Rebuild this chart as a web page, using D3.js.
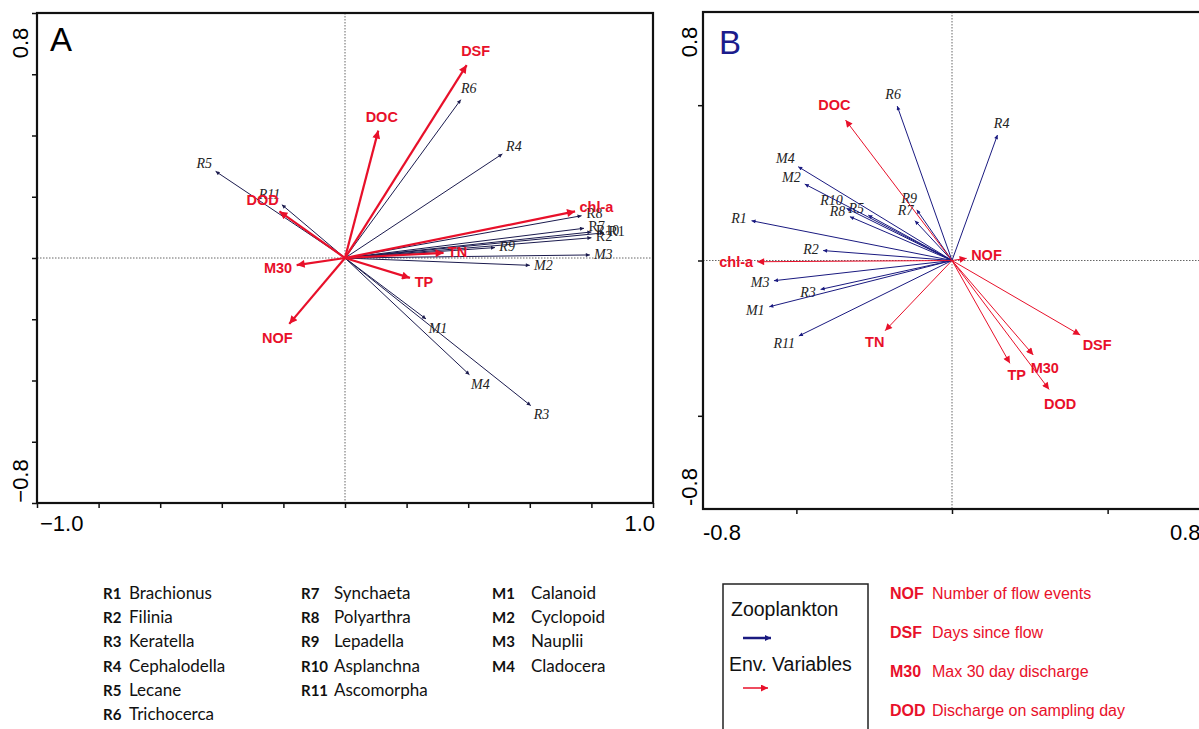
<!DOCTYPE html>
<html>
<head>
<meta charset="utf-8">
<script src="https://cdn.jsdelivr.net/npm/d3@7"></script>
<style>
body { margin: 0; background: #fff; }
svg { display: block; }
</style>
</head>
<body>
<script>
// Panel A (left) vectors
var zooNamesA = ['R1', 'R2', 'R3', 'R4', 'R5', 'R6', 'R7', 'R8', 'R9', 'R10', 'R11', 'M1', 'M2', 'M3', 'M4'];
var zooXA = [0.841, 0.80, 0.603, 0.511, -0.42, 0.376, 0.776, 0.768, 0.487, 0.80, -0.205, 0.263, 0.60, 0.795, 0.404];
var zooYA = [0.082, 0.066, -0.482, 0.34, 0.283, 0.517, 0.097, 0.138, 0.034, 0.085, 0.174, -0.199, -0.024, 0.01, -0.381];

var envNamesA = ['NOF', 'DSF', 'M30', 'DOD', 'DOC', 'chl-a', 'TN', 'TP'];
var envXA = [-0.181, 0.395, -0.157, -0.213, 0.108, 0.747, 0.32, 0.211];
var envYA = [-0.215, 0.63, -0.023, 0.152, 0.416, 0.152, 0.017, -0.065];

// Panel B (right) vectors
var zooNamesB = ['R1', 'R2', 'R3', 'R4', 'R5', 'R6', 'R7', 'R8', 'R9', 'R10', 'R11', 'M1', 'M2', 'M3', 'M4'];
var zooXB = [-0.644, -0.414, -0.422, 0.146, -0.269, -0.176, -0.119, -0.328, -0.113, -0.339, -0.492, -0.587, -0.473, -0.572, -0.494];
var zooYB = [0.128, 0.032, -0.093, 0.404, 0.146, 0.497, 0.128, 0.141, 0.163, 0.168, -0.243, -0.149, 0.246, -0.065, 0.302];

var envNamesB = ['NOF', 'DSF', 'M30', 'DOD', 'DOC', 'chl-a', 'TN', 'TP'];
var envXB = [0.047, 0.412, 0.261, 0.312, -0.342, -0.626, -0.215, 0.186];
var envYB = [0.007, -0.24, -0.304, -0.415, 0.452, -0.004, -0.226, -0.331];

// tick labels
var tickLabelsA = { xmin: '\u22121.0', xmax: '1.0', ymin: '\u22120.8', ymax: '0.8' };
var tickLabelsB = { xmin: '-0.8', xmax: '0.8', ymin: '-0.8', ymax: '0.8' };

// legends
var legendCodes1 = ['R1', 'R2', 'R3', 'R4', 'R5', 'R6'];
var legendTaxa1 = ['Brachionus', 'Filinia', 'Keratella', 'Cephalodella', 'Lecane', 'Trichocerca'];
var legendCodes2 = ['R7', 'R8', 'R9', 'R10', 'R11'];
var legendTaxa2 = ['Synchaeta', 'Polyarthra', 'Lepadella', 'Asplanchna', 'Ascomorpha'];
var legendCodes3 = ['M1', 'M2', 'M3', 'M4'];
var legendTaxa3 = ['Calanoid', 'Cyclopoid', 'Nauplii', 'Cladocera'];
var envCodes = ['NOF', 'DSF', 'M30', 'DOD'];
var envDescr = ['Number of flow events', 'Days since flow', 'Max 30 day discharge', 'Discharge on sampling day'];

var RED = '#e8102a';
var NAVY = '#1a1a80';
var DARK = '#1b1b4e';

var svg = d3.select('body').append('svg')
	.attr('width', 1199)
	.attr('height', 729);

var defs = svg.append('defs');
function marker(id, color, w, h) {
	defs.append('marker')
		.attr('id', id)
		.attr('viewBox', '0 0 10 10')
		.attr('refX', 10).attr('refY', 5)
		.attr('markerUnits', 'userSpaceOnUse')
		.attr('markerWidth', w).attr('markerHeight', h)
		.attr('orient', 'auto')
		.append('path')
		.attr('d', 'M0,0L10,5L0,10Z')
		.attr('fill', color);
}
marker('zooA', DARK, 6, 4);
marker('envA', RED, 11, 8);
marker('zooB', NAVY, 6, 4);
marker('envB', RED, 9, 7);
marker('legZoo', NAVY, 8, 6);

function zip(names, xs, ys) {
	return names.map(function (n, i) { return { name: n, x: xs[i], y: ys[i] }; });
}

var measure = svg.append('text').attr('visibility', 'hidden');
function textWidth(str, font) {
	measure.style('font', font).text(str);
	return measure.node().getComputedTextLength();
}

function drawPanel(opts) {
	var g = svg.append('g');
	var x = d3.scaleLinear().domain(opts.xDomain).range(opts.xRange);
	var y = d3.scaleLinear().domain(opts.yDomain).range(opts.yRange);

	// dotted zero lines
	g.append('line')
		.attr('x1', x(0)).attr('x2', x(0))
		.attr('y1', y.range()[1]).attr('y2', y.range()[0])
		.attr('stroke', '#666').attr('stroke-width', 1).attr('stroke-dasharray', '1.5,1.5');
	g.append('line')
		.attr('x1', x.range()[0]).attr('x2', x.range()[1])
		.attr('y1', y(0)).attr('y2', y(0))
		.attr('stroke', '#666').attr('stroke-width', 1).attr('stroke-dasharray', '1.5,1.5');

	// frame
	g.append('rect')
		.attr('x', x.range()[0]).attr('y', y.range()[1])
		.attr('width', x.range()[1] - x.range()[0])
		.attr('height', y.range()[0] - y.range()[1])
		.attr('fill', 'none').attr('stroke', '#111').attr('stroke-width', 2.2);

	// ticks
	g.append('g')
		.attr('transform', 'translate(0,' + y.range()[0] + ')')
		.call(d3.axisBottom(x).tickValues(opts.ticks).tickSize(5).tickFormat(''))
		.call(function (a) { a.select('.domain').remove(); a.selectAll('line').attr('stroke', '#111').attr('stroke-width', 1.5); });
	g.append('g')
		.attr('transform', 'translate(' + x.range()[0] + ',0)')
		.call(d3.axisLeft(y).tickValues(opts.yticks).tickSize(5).tickFormat(''))
		.call(function (a) { a.select('.domain').remove(); a.selectAll('line').attr('stroke', '#111').attr('stroke-width', 1.5); });

	// vectors
	function vectors(data, cls, color, width, mk, styleFn) {
		var sel = g.selectAll('.' + cls).data(data).enter().append('g').attr('class', cls);
		sel.append('line')
			.attr('x1', x(0)).attr('y1', y(0))
			.attr('x2', function (d) { return x(d.x); })
			.attr('y2', function (d) { return y(d.y); })
			.attr('stroke', color).attr('stroke-width', width)
			.attr('marker-end', 'url(#' + mk + ')');
		sel.append('text')
			.text(function (d) { return d.name; })
			.each(function (d) {
				var f = styleFn(d);
				d3.select(this).style('font', f);
				var px = x(d.x) - x(0), py = y(d.y) - y(0);
				var len = Math.sqrt(px * px + py * py);
				var ux = px / len, uy = py / len;
				var hw = textWidth(d.name, f) / 2, hh = 6;
				var off = 4 + hw * Math.abs(ux) + hh * Math.abs(uy);
				d3.select(this)
					.attr('x', x(d.x) + ux * off)
					.attr('y', y(d.y) + uy * off)
					.attr('text-anchor', 'middle')
					.attr('dominant-baseline', 'central');
			})
			.attr('fill', opts.labelColor(cls));
	}
	vectors(opts.zoo, 'zoo', opts.zooColor, 1, opts.zooMarker, opts.zooFont);
	vectors(opts.env, 'env', RED, opts.envWidth, opts.envMarker, function () { return 'bold 14.5px "Liberation Sans", Arial, sans-serif'; });

	// panel letter
	g.append('text')
		.attr('x', opts.letterX).attr('y', opts.letterY)
		.style('font', '33px "Liberation Sans", Arial, sans-serif')
		.attr('fill', opts.letterColor)
		.text(opts.letter);

	// tick labels
	var tf = '22px "Liberation Sans", Arial, sans-serif';
	g.append('text').attr('x', x.range()[0] + opts.xminDx).attr('y', y.range()[0] + opts.xlabDy)
		.style('font', tf).text(opts.labels.xmin);
	g.append('text').attr('x', x.range()[1] + opts.xmaxDx).attr('y', y.range()[0] + opts.xlabDy)
		.style('font', tf).attr('text-anchor', opts.xmaxAnchor).text(opts.labels.xmax);
	g.append('text').attr('transform', 'translate(' + (x.range()[0] - opts.ylabDx) + ',' + (y.range()[1] + 30) + ') rotate(-90)')
		.style('font', tf).attr('text-anchor', 'middle').text(opts.labels.ymax);
	g.append('text').attr('transform', 'translate(' + (x.range()[0] - opts.ylabDx) + ',' + (y.range()[0] - 22) + ') rotate(-90)')
		.style('font', tf).attr('text-anchor', 'middle').text(opts.labels.ymin);
}

var uprightA = ['R1', 'R2', 'R7', 'R8', 'R10'];

drawPanel({
	xDomain: [-1, 1], xRange: [37, 653],
	yDomain: [-0.8, 0.8], yRange: [503, 13],
	ticks: d3.range(-1, 1.01, 0.2), yticks: d3.range(-0.8, 0.81, 0.2),
	zoo: zip(zooNamesA, zooXA, zooYA),
	env: zip(envNamesA, envXA, envYA),
	zooColor: DARK, zooMarker: 'zooA', envMarker: 'envA', envWidth: 2.2,
	zooFont: function (d) {
		return (uprightA.indexOf(d.name) >= 0 ? '' : 'italic ') + '14px "Liberation Serif", "Times New Roman", serif';
	},
	labelColor: function (cls) { return cls === 'env' ? RED : '#222'; },
	letter: 'A', letterX: 50, letterY: 51, letterColor: '#000',
	labels: tickLabelsA, xminDx: 3, xmaxDx: 2, xmaxAnchor: 'end', xlabDy: 28, ylabDx: 9
});

drawPanel({
	xDomain: [-0.8, 0.8], xRange: [703, 1201],
	yDomain: [-0.8, 0.8], yRange: [509, 12],
	ticks: [-0.5, 0, 0.5], yticks: [-0.5, 0, 0.5],
	zoo: zip(zooNamesB, zooXB, zooYB),
	env: zip(envNamesB, envXB, envYB),
	zooColor: NAVY, zooMarker: 'zooB', envMarker: 'envB', envWidth: 1,
	zooFont: function () { return 'italic 14px "Liberation Serif", "Times New Roman", serif'; },
	labelColor: function (cls) { return cls === 'env' ? RED : '#222'; },
	letter: 'B', letterX: 719, letterY: 54, letterColor: '#1c1c8c',
	labels: tickLabelsB, xminDx: 0, xmaxDx: -31, xmaxAnchor: 'start', xlabDy: 31, ylabDx: 6
});

// species legend
var cf = 'bold 15px Lato, "Noto Sans", sans-serif';
var nf = '17px Lato, "Noto Sans", sans-serif';
function legendColumn(codes, taxa, cx, nx) {
	var col = svg.append('g');
	codes.forEach(function (c, i) {
		var yy = 599 + i * 24.2;
		col.append('text').attr('x', cx).attr('y', yy).style('font', cf).attr('fill', '#111').text(c);
		col.append('text').attr('x', nx).attr('y', yy).style('font', nf).attr('fill', '#111').text(taxa[i]);
	});
}
legendColumn(legendCodes1, legendTaxa1, 103, 129);
legendColumn(legendCodes2, legendTaxa2, 301, 334);
legendColumn(legendCodes3, legendTaxa3, 492, 531);

// arrow legend box
var box = svg.append('g');
var bf = '19.5px "Liberation Sans", Arial, sans-serif';
box.append('rect').attr('x', 723).attr('y', 584).attr('width', 145).attr('height', 160)
	.attr('fill', 'none').attr('stroke', '#222').attr('stroke-width', 1.5);
box.append('text').attr('x', 731).attr('y', 616).style('font', bf).attr('fill', '#111').text('Zooplankton');
box.append('line').attr('x1', 743).attr('x2', 771).attr('y1', 638).attr('y2', 638)
	.attr('stroke', NAVY).attr('stroke-width', 2.5).attr('marker-end', 'url(#legZoo)');
box.append('text').attr('x', 729).attr('y', 671).style('font', bf).attr('fill', '#111').text('Env. Variables');
box.append('line').attr('x1', 743).attr('x2', 768).attr('y1', 688).attr('y2', 688)
	.attr('stroke', RED).attr('stroke-width', 1.5).attr('marker-end', 'url(#envB)');

// env variable legend
var ef = '16px "Liberation Sans", Arial, sans-serif';
envCodes.forEach(function (c, i) {
	var yy = 599 + i * 39;
	svg.append('text').attr('x', 890).attr('y', yy).style('font', 'bold ' + ef).attr('fill', RED).text(c);
	svg.append('text').attr('x', 932).attr('y', yy).style('font', ef).attr('fill', RED).text(envDescr[i]);
});
</script>
</body>
</html>
